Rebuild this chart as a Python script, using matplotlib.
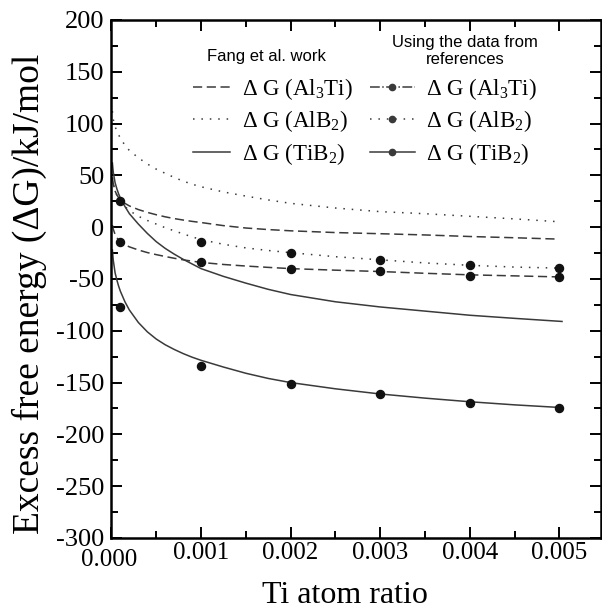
import numpy as np
import matplotlib
matplotlib.use('Agg')
import matplotlib.pyplot as plt
from matplotlib.lines import Line2D
from matplotlib.ticker import MultipleLocator, FuncFormatter

plt.rcParams['font.family'] = ['Liberation Serif', 'DejaVu Serif']
plt.rcParams['mathtext.fontset'] = 'custom'
plt.rcParams['mathtext.rm'] = 'Liberation Serif'
plt.rcParams['mathtext.default'] = 'regular'
plt.rcParams['axes.unicode_minus'] = False

# curves (Ti atom ratio, kJ/mol)
x_grid = [0.00001, 0.00002, 0.00004, 0.00006, 0.00008, 0.0001, 0.00015, 0.0002, 0.0003,
          0.0004, 0.0005, 0.0006, 0.0007, 0.0008, 0.0009, 0.001, 0.00125, 0.0015, 0.00175,
          0.002, 0.0025, 0.003, 0.0035, 0.004, 0.0045]
x_fang = x_grid + [0.00495]
x_fang_tib2 = x_grid + [0.00503]
x_ref = x_grid + [0.005]

fang_al3ti = [48, 42, 35, 31, 28.5, 26.5, 23, 20.5, 17, 14.3, 12, 10, 8.3, 6.9, 5.6, 4.5,
              1.5, -0.8, -2.3, -3.5, -5.2, -6.3, -7.5, -9, -10.2, -11.4]
fang_alb2 = [112, 104, 97, 93, 89, 86, 79, 74, 67, 61, 56, 52, 48, 44.5, 41.5, 39,
             34, 30, 26.3, 23, 18.5, 15, 13, 10.5, 8, 5.5]
fang_tib2 = [62, 53, 43, 37, 32, 28, 20, 13, 3, -6, -14, -20.5, -26, -31, -35.5, -40,
             -47.5, -54, -60, -65, -72, -77, -81, -85, -88, -91]

ref_al3ti = [2, -2, -7, -10, -12.5, -14.5, -17, -19, -22, -24.5, -26.5, -28.3, -30, -31.5,
             -32.8, -34, -36, -37.5, -38.8, -40, -41.5, -42.8, -44.5, -46, -47, -48]
ref_alb2 = [48, 42, 35, 31, 27.8, 25, 20, 16, 10.5, 6.5, 3, -0.5, -3.5, -6.5, -9.3, -12,
            -16.5, -20, -22.5, -24.6, -28.5, -31.5, -34.5, -36.8, -38.5, -39.5]
ref_tib2 = [-22, -32, -44, -51, -57, -62, -72, -80, -92, -101, -108, -113.5, -118, -122,
            -125.5, -128.5, -135, -141, -146, -150, -156, -161, -165, -168.5, -171.5, -174]

# data points from references
x_pts = [0.0001, 0.001, 0.002, 0.003, 0.004, 0.005]
pts_al3ti = [-14.7, -34, -40, -42.6, -46.8, -48]
pts_alb2 = [24.9, -14, -24.6, -31.3, -36.8, -39.4]
pts_tib2 = [-77, -134, -151, -161, -170, -175]

col = '#3a3a3a'
dash = (6, 3)
dot = (1, 4.5)

fig = plt.figure(figsize=(6.02, 6.11), dpi=100)
ax = fig.add_axes([0.1852, 0.1195, 0.8128, 0.8478])

ax.plot(x_fang, fang_al3ti, color=col, lw=1.1, dashes=dash)
ax.plot(x_fang, fang_alb2, color=col, lw=1.1, dashes=dot)
ax.plot(x_fang_tib2, fang_tib2, color=col, lw=1.1)

ax.plot(x_ref, ref_al3ti, color=col, lw=1.1, dashes=dash)
ax.plot(x_ref, ref_alb2, color=col, lw=1.1, dashes=dot)
ax.plot(x_ref, ref_tib2, color=col, lw=1.1)

for yy in (pts_al3ti, pts_alb2, pts_tib2):
    ax.plot(x_pts, yy, 'o', color='#111111', ms=5.8, ls='none')

ax.set_xlim(0, 0.005463)
ax.set_ylim(-300, 200)
ax.xaxis.set_major_locator(MultipleLocator(0.001))
ax.xaxis.set_minor_locator(MultipleLocator(0.0005))
ax.yaxis.set_major_locator(MultipleLocator(50))
ax.yaxis.set_minor_locator(MultipleLocator(25))
# 0.000 is drawn separately, a little lower than the other labels
ax.xaxis.set_major_formatter(FuncFormatter(lambda v, p: '' if abs(v) < 1e-9 else '%.3f' % v))
ax.tick_params(which='both', direction='in', top=True, right=True, width=1.4)
ax.tick_params(which='major', length=8)
ax.tick_params(which='minor', length=5)
ax.tick_params(axis='x', which='major', pad=3, labelsize=18)
ax.tick_params(axis='y', which='major', pad=5, labelsize=19)
for s in ax.spines.values():
    s.set_linewidth(1.8)
ax.annotate('0.000', xy=(0, 0), xycoords='axes fraction', xytext=(-2, -8),
            textcoords='offset points', ha='center', va='top', fontsize=18)

ax.set_xlabel('Ti atom ratio', fontsize=23)
ax.xaxis.set_label_coords(0.477, -0.084)
ax.set_ylabel('Excess free energy (ΔG)/kJ/mol', fontsize=27)
ax.yaxis.set_label_coords(-0.132, 0.471)

h_fang = [Line2D([], [], color=col, lw=1.1, dashes=dash),
          Line2D([], [], color=col, lw=1.1, dashes=dot),
          Line2D([], [], color=col, lw=1.1)]
h_ref = [Line2D([], [], color=col, lw=1.1, ls='-.', marker='o', ms=4.5),
         Line2D([], [], color=col, lw=1.1, dashes=dot, marker='o', ms=4.5),
         Line2D([], [], color=col, lw=1.1, marker='o', ms=4.5)]
labels = ['Δ G (Al$_3$Ti)', 'Δ G (AlB$_2$)', 'Δ G (TiB$_2$)']

leg1 = fig.legend(h_fang, labels, loc='upper left', bbox_to_anchor=(193 / 602, 1 - 76 / 611),
                  frameon=False, borderpad=0, borderaxespad=0, handlelength=1.6,
                  handletextpad=0.55, labelspacing=0.28, prop={'family': 'Liberation Serif', 'size': 16.5})
leg2 = fig.legend(h_ref, labels, loc='upper left', bbox_to_anchor=(370 / 602, 1 - 76 / 611),
                  frameon=False, borderpad=0, borderaxespad=0, handlelength=1.95,
                  handletextpad=0.5, labelspacing=0.28, numpoints=1,
                  prop={'family': 'Liberation Serif', 'size': 16.5})

fig.text(266 / 602, 1 - 56 / 611, 'Fang et al. work', family='Liberation Sans', fontsize=12,
         ha='center', va='center')
fig.text(465 / 602, 1 - 51 / 611, 'Using the data from\nreferences', family='Liberation Sans',
         fontsize=12, ha='center', va='center', linespacing=1.2)

fig.savefig('out.png', dpi=100)
